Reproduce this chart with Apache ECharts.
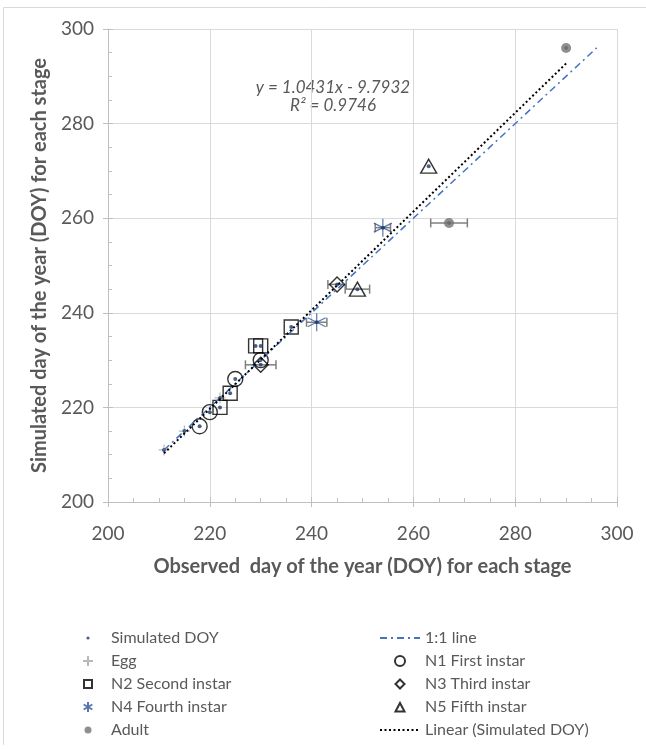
<!DOCTYPE html>
<html>
<head>
<meta charset="utf-8">
<script src="https://cdn.jsdelivr.net/npm/echarts@6/dist/echarts.min.js"></script>
<style>
  html, body { margin: 0; padding: 0; background: #fff; }
  #chart { width: 646px; height: 749px; }
</style>
</head>
<body>
<div id="chart"></div>
<script>
// Observed vs simulated day of year, per development stage
const egg   = [[211, 211], [215, 215], [222, 222]];
const n1    = [[218, 216], [220, 219], [225, 226], [230, 230]];
const n2    = [[222, 220], [224, 223], [229, 233], [230, 233], [236, 237]];
const n3    = [[230, 229], [245, 246]];
const n4    = [[241, 238], [254, 258]];
const n5    = [[249, 245], [263, 271]];
const adult = [[267, 259], [290, 296]];

// horizontal error bars on observed DOY: [x, y, half-width]
const errBars = [[267, 259, 3.6], [249, 245, 2.4], [254, 258, 1.5], [241, 238, 2], [245, 246, 1.8], [230, 229, 3]];

// 1:1 reference line
const oneToOne = [[211, 211], [296, 296]];

// fitted trend: y = 1.0431x - 9.7932
const slope = 1.0431;
const intercept = -9.7932;
const r2 = 0.9746;

const axisTicks = [200, 220, 240, 260, 280, 300];

const simulated = [].concat(egg, n1, n2, n3, n4, n5, adult);
const xs = simulated.map(p => p[0]);
const xMin = Math.min.apply(null, xs);
const xMax = Math.max.apply(null, xs);
const trend = [[xMin, slope * xMin + intercept], [xMax, slope * xMax + intercept]];

const FONT = 'Lato';
const GREY_TEXT = '#595959';

const plusPath = 'path://M5,0 L5,10 M0,5 L10,5';
const starPath = 'path://M5,0 L5,10 M0.67,2.5 L9.33,7.5 M9.33,2.5 L0.67,7.5';
const smallDot = 'path://M0,0 M10,10 M3.4,5 A1.6,1.6 0 1,0 6.6,5 A1.6,1.6 0 1,0 3.4,5 Z';
const squareIcon = 'path://M0,0 M10,10 M1,1 L9,1 L9,9 L1,9 Z';
const diamondIcon = 'path://M0,0 M10,10 M5,0.5 L9.5,5 L5,9.5 L0.5,5 Z';
const triangleIcon = 'path://M0,0 M10,10 M5,1 L9.5,9.5 L0.5,9.5 Z';
const adultIcon = 'path://M0,0 M10,10 M1.5,5 A3.5,3.5 0 1,0 8.5,5 A3.5,3.5 0 1,0 1.5,5 Z';

const hollow = (c, w) => ({ color: 'transparent', borderColor: c, borderWidth: w });

const chart = echarts.init(document.getElementById('chart'), null, { renderer: 'canvas' });

function valueAxis(name, gap, labelMargin, extra) {
  return Object.assign({
    type: 'value',
    min: axisTicks[0],
    max: axisTicks[axisTicks.length - 1],
    interval: axisTicks[1] - axisTicks[0],
    name: name,
    nameLocation: 'middle',
    nameGap: gap,
    nameTextStyle: { fontFamily: FONT, fontWeight: 'bold', fontSize: 20, color: GREY_TEXT },
    axisLine: { show: true, onZero: false, lineStyle: { color: '#bfbfbf', width: 1 } },
    axisTick: { show: true, length: 5, lineStyle: { color: '#bfbfbf' } },
    minorTick: { show: false },
    axisLabel: { fontFamily: FONT, fontSize: 19, color: GREY_TEXT, margin: labelMargin },
    splitLine: { show: true, lineStyle: { color: '#d9d9d9', width: 1 } }
  }, extra || {});
}

// second axis pair only draws the inward major/minor ticks
function tickAxis() {
  return {
    type: 'value',
    min: axisTicks[0],
    max: axisTicks[axisTicks.length - 1],
    interval: axisTicks[1] - axisTicks[0],
    axisLine: { show: false, onZero: false },
    axisTick: { show: true, inside: true, length: 5, lineStyle: { color: '#bfbfbf' } },
    minorTick: { show: true, splitNumber: 4, length: 4, lineStyle: { color: '#bfbfbf' } },
    axisLabel: { show: false },
    splitLine: { show: false }
  };
}

const legendText = { fontFamily: FONT, fontSize: 16, lineHeight: 16, color: GREY_TEXT };

const option = {
  backgroundColor: '#ffffff',
  animation: false,
  textStyle: { fontFamily: FONT },
  grid: { left: 108, right: 29, top: 29, bottom: 247, containLabel: false },
  xAxis: [
    valueAxis('Observed  day of the year (DOY) for each stage', 55, 22, { position: 'bottom' }),
    Object.assign(tickAxis(), { position: 'bottom' })
  ],
  yAxis: [
    valueAxis('Simulated day of the year (DOY) for each stage', 57, 14, { position: 'left' }),
    Object.assign(tickAxis(), { position: 'left' })
  ],
  legend: [
    {
      orient: 'vertical', left: 77, top: 625,
      itemWidth: 36, itemHeight: 10, itemGap: 7,
      textStyle: legendText,
      data: [
        { name: 'Simulated DOY', icon: smallDot },
        'Egg',
        { name: 'N2 Second instar', icon: squareIcon },
        'N4 Fourth instar',
        { name: 'Adult', icon: adultIcon }
      ]
    },
    {
      orient: 'vertical', left: 374, top: 625,
      itemWidth: 40, itemHeight: 10, itemGap: 7,
      textStyle: legendText,
      data: [
        '1:1 line',
        'N1 First instar',
        { name: 'N3 Third instar', icon: diamondIcon },
        { name: 'N5 Fifth instar', icon: triangleIcon },
        'Linear (Simulated DOY)'
      ]
    }
  ],
  graphic: [
    {
      type: 'polyline', silent: true,
      shape: { points: [[3.5, 745], [3.5, 7.5], [646, 7.5]] },
      style: { stroke: '#d9d9d9', lineWidth: 1, fill: null }
    },
    {
      type: 'text', silent: true,
      style: { text: 'y = ' + slope.toFixed(4) + 'x - ' + Math.abs(intercept).toFixed(4), x: 333, y: 79, align: 'center',
               font: 'italic 17px Lato', fill: GREY_TEXT }
    },
    {
      type: 'text', silent: true,
      style: { text: 'R² = ' + r2.toFixed(4), x: 333, y: 97, align: 'center',
               font: 'italic 17px Lato', fill: GREY_TEXT }
    }
  ],
  series: [
    {
      name: 'errorbars', type: 'custom', xAxisIndex: 0, yAxisIndex: 0, z: 2,
      data: errBars,
      encode: { x: 0, y: 1 },
      renderItem: function (params, api) {
        const y = api.value(1);
        const lo = api.coord([api.value(0) - api.value(2), y]);
        const hi = api.coord([api.value(0) + api.value(2), y]);
        const s = { stroke: '#7f7f7f', lineWidth: 1.5 };
        const cap = 4.5;
        return {
          type: 'group',
          children: [
            { type: 'line', shape: { x1: lo[0], y1: lo[1], x2: hi[0], y2: hi[1] }, style: s },
            { type: 'line', shape: { x1: lo[0], y1: lo[1] - cap, x2: lo[0], y2: lo[1] + cap }, style: s },
            { type: 'line', shape: { x1: hi[0], y1: hi[1] - cap, x2: hi[0], y2: hi[1] + cap }, style: s }
          ]
        };
      }
    },
    { name: 'Egg', type: 'scatter', z: 3, data: egg, symbol: plusPath, symbolSize: 11,
      itemStyle: hollow('#a6a6a6', 1.2) },
    { name: 'N1 First instar', type: 'scatter', z: 3, data: n1, symbol: 'circle', symbolSize: 15,
      itemStyle: hollow('#000000', 1.4) },
    { name: 'N2 Second instar', type: 'scatter', z: 3, data: n2, symbol: 'rect', symbolSize: 14,
      itemStyle: hollow('#000000', 1.4) },
    { name: 'N3 Third instar', type: 'scatter', z: 3, data: n3, symbol: 'diamond', symbolSize: [15, 15],
      itemStyle: hollow('#000000', 1.4) },
    { name: 'N4 Fourth instar', type: 'scatter', z: 3, data: n4, symbol: starPath, symbolSize: 18,
      itemStyle: hollow('#2f5597', 1.2) },
    { name: 'N5 Fifth instar', type: 'scatter', z: 3, data: n5, symbol: 'triangle', symbolSize: [16, 14],
      itemStyle: hollow('#000000', 1.4) },
    { name: 'Simulated DOY', type: 'scatter', z: 4, data: simulated, symbol: 'circle', symbolSize: 4,
      itemStyle: { color: '#1f3864' } },
    { name: 'Adult', type: 'scatter', z: 5, data: adult, symbol: 'circle', symbolSize: 10,
      itemStyle: { color: '#737373' } },
    { name: '1:1 line', type: 'line', z: 6, data: oneToOne, symbol: 'none', showSymbol: false,
      itemStyle: { color: 'transparent' },
      lineStyle: { color: '#4472c4', width: 1.5, type: [7, 4, 2, 4] } },
    { name: 'Linear (Simulated DOY)', type: 'line', z: 7, data: trend, symbol: 'none', showSymbol: false,
      itemStyle: { color: 'transparent' },
      lineStyle: { color: '#000000', width: 2, type: [2, 2.5] } }
  ]
};

chart.setOption(option);
</script>
</body>
</html>
